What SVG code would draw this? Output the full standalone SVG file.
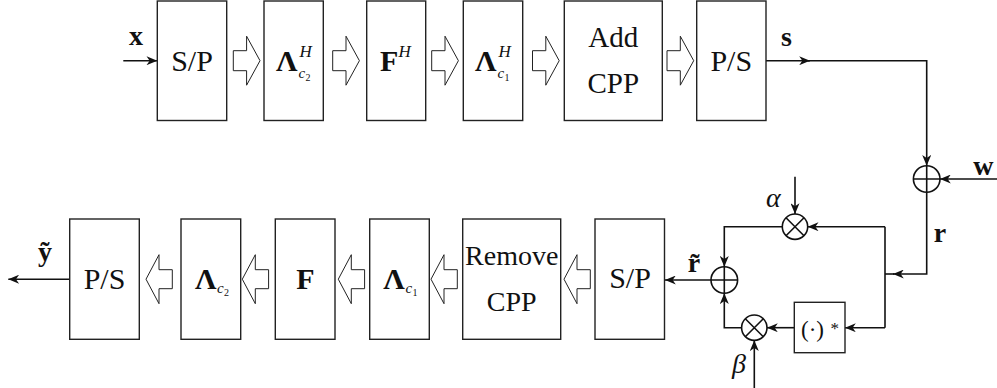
<svg xmlns="http://www.w3.org/2000/svg" width="997" height="388" viewBox="0 0 997 388" font-family="'Liberation Serif', 'DejaVu Serif', serif">
<style>
.box{fill:#fff;stroke:#222;stroke-width:1.4}
.ha{fill:#fff;stroke:#222;stroke-width:1}
.ln{fill:none;stroke:#111;stroke-width:1.6}
.op{fill:#fff;stroke:#111;stroke-width:1.6}
text{font-family:'Liberation Serif', 'DejaVu Serif', serif;fill:#111}
.c{text-anchor:middle}
.b{font-weight:bold}
.i{font-style:italic}
</style>
<defs>
<marker id="ah" viewBox="0 0 12 10" refX="12" refY="5" markerWidth="12" markerHeight="9" markerUnits="userSpaceOnUse" orient="auto">
<path d="M0,0 L12,5 L0,10 L3.5,5 Z" fill="#111"/>
</marker>
<path id="har" class="ha" d="M0,-10 H13.3 V-24.5 L26.7,0 L13.3,24.5 V10 H0 Z"/>
<path id="hal" class="ha" d="M26.3,-9.5 H13 V-24.5 L0,0 L13,24.5 V9.5 H26.3 Z"/>
</defs>

<g id="hollow-arrows">
<use href="#har" x="233.3" y="60.7"/>
<use href="#har" x="332.7" y="60.7"/>
<use href="#har" x="431.7" y="60.7"/>
<use href="#har" x="532.5" y="60.7"/>
<use href="#har" x="667" y="60.7"/>
<use href="#hal" x="146" y="279.2"/>
<use href="#hal" x="242.3" y="279.2"/>
<use href="#hal" x="338.3" y="279.2"/>
<use href="#hal" x="431" y="279.2"/>
<use href="#hal" x="564" y="279.2"/>
</g>

<g id="connectors">
<path class="ln" d="M123.3,60.7 H157.3" marker-end="url(#ah)"/>
<path class="ln" d="M766,60.7 H810" marker-end="url(#ah)"/>
<path class="ln" d="M808,60.7 H926.7 V165.7" marker-end="url(#ah)"/>
<path class="ln" d="M997,179 H940" marker-end="url(#ah)"/>
<path class="ln" d="M926.7,192.3 V274 H893" marker-end="url(#ah)"/>
<path class="ln" d="M894,274 H885"/>
<path class="ln" d="M885,226.7 V327.7"/>
<path class="ln" d="M885,226.7 H807.7" marker-end="url(#ah)"/>
<path class="ln" d="M795,176.7 V214" marker-end="url(#ah)"/>
<path class="ln" d="M782.3,226.7 H724.3 V266.7" marker-end="url(#ah)"/>
<path class="ln" d="M711,280 H665" marker-end="url(#ah)"/>
<path class="ln" d="M885,327.7 H845" marker-end="url(#ah)"/>
<path class="ln" d="M794.3,327.7 H767" marker-end="url(#ah)"/>
<path class="ln" d="M741.7,327.7 H724.3 V293.3" marker-end="url(#ah)"/>
<path class="ln" d="M754.3,388 V340.3" marker-end="url(#ah)"/>
<path class="ln" d="M69.7,279.2 H8.3" marker-end="url(#ah)"/>
</g>

<g id="labels">
<text class="c b" x="136" y="45" font-size="28">x</text>
<text class="c b" x="786.5" y="45.7" font-size="28">s</text>
<text class="c b" x="983.3" y="175" font-size="28">w</text>
<text class="c b" x="940" y="241.7" font-size="28">r</text>
<text class="c b" x="694" y="271.7" font-size="28">r&#x303;</text>
<text class="c b" x="45" y="260.7" font-size="28">&#x1EF9;</text>
<text class="c i" x="773.3" y="207" font-size="28">α</text>
<text class="c i" x="739" y="373" font-size="28">β</text>
</g>

<g id="tx-sp"><rect class="box" x="157.3" y="1" width="69.4" height="119.5"/><text class="c" x="192" y="70.7" font-size="30">S/P</text></g>
<g id="tx-lc2h"><rect class="box" x="264" y="1" width="59.3" height="119.5"/><text font-size="30"><tspan class="b" x="276" y="70.7">Λ</tspan><tspan class="i" x="298.5" y="78" font-size="15">c</tspan><tspan x="305.5" y="81" font-size="10">2</tspan><tspan class="i" x="299.5" y="57.3" font-size="17">H</tspan></text></g>
<g id="tx-fh"><rect class="box" x="366.7" y="1" width="59" height="119.5"/><text font-size="30"><tspan class="b" x="380" y="70.7">F</tspan><tspan class="i" x="398.5" y="57.3" font-size="17">H</tspan></text></g>
<g id="tx-lc1h"><rect class="box" x="463.3" y="1" width="59.4" height="119.5"/><text font-size="30"><tspan class="b" x="475" y="70.7">Λ</tspan><tspan class="i" x="497.5" y="78" font-size="15">c</tspan><tspan x="504.5" y="81" font-size="10">1</tspan><tspan class="i" x="498.5" y="57.3" font-size="17">H</tspan></text></g>
<g id="tx-addcpp"><rect class="box" x="564.3" y="1" width="98" height="119.5"/><text class="c" font-size="29"><tspan x="613.3" y="46.7">Add</tspan><tspan x="613.3" y="92.7">CPP</tspan></text></g>
<g id="tx-ps"><rect class="box" x="696.7" y="1" width="69.3" height="119.5"/><text class="c" x="731.3" y="70.7" font-size="30">P/S</text></g>

<g id="add-w"><circle class="op" cx="926.7" cy="179" r="13.3"/><path class="ln" d="M913.4,179 H940 M926.7,165.7 V192.3"/></g>
<g id="mul-alpha"><circle class="op" cx="795" cy="226.7" r="12.7"/><path class="ln" d="M786,217.7 L804,235.7 M804,217.7 L786,235.7"/></g>
<g id="conj"><rect class="box" x="794.3" y="302.3" width="50.7" height="50.4"/><text font-size="23"><tspan x="801" y="337">(·)</tspan><tspan x="830.5" y="334" font-size="17">*</tspan></text></g>
<g id="mul-beta"><circle class="op" cx="754.3" cy="327.7" r="12.7"/><path class="ln" d="M745.3,318.7 L763.3,336.7 M763.3,318.7 L745.3,336.7"/></g>
<g id="add-rx"><circle class="op" cx="724.3" cy="280" r="13.3"/><path class="ln" d="M711,280 H737.6 M724.3,266.7 V293.3"/></g>

<g id="rx-sp"><rect class="box" x="595" y="219" width="69.5" height="120.3"/><text class="c" x="630" y="288.3" font-size="30">S/P</text></g>
<g id="rx-removecpp"><rect class="box" x="462.7" y="219" width="98" height="120.3"/><text class="c" font-size="28"><tspan x="511.7" y="265">Remove</tspan><tspan x="511.7" y="310.7">CPP</tspan></text></g>
<g id="rx-lc1"><rect class="box" x="369.7" y="219" width="59.6" height="120.3"/><text font-size="30"><tspan class="b" x="383.3" y="289">Λ</tspan><tspan class="i" x="405.5" y="293" font-size="15">c</tspan><tspan x="412.5" y="296" font-size="10">1</tspan></text></g>
<g id="rx-f"><rect class="box" x="275.3" y="219" width="59.7" height="120.3"/><text class="c b" x="305.5" y="289" font-size="30">F</text></g>
<g id="rx-lc2"><rect class="box" x="181" y="219" width="59.7" height="120.3"/><text font-size="30"><tspan class="b" x="195" y="289">Λ</tspan><tspan class="i" x="217" y="293" font-size="15">c</tspan><tspan x="224" y="296" font-size="10">2</tspan></text></g>
<g id="rx-ps"><rect class="box" x="69.7" y="219" width="69.6" height="120.3"/><text class="c" x="104.5" y="289" font-size="30">P/S</text></g>
</svg>
